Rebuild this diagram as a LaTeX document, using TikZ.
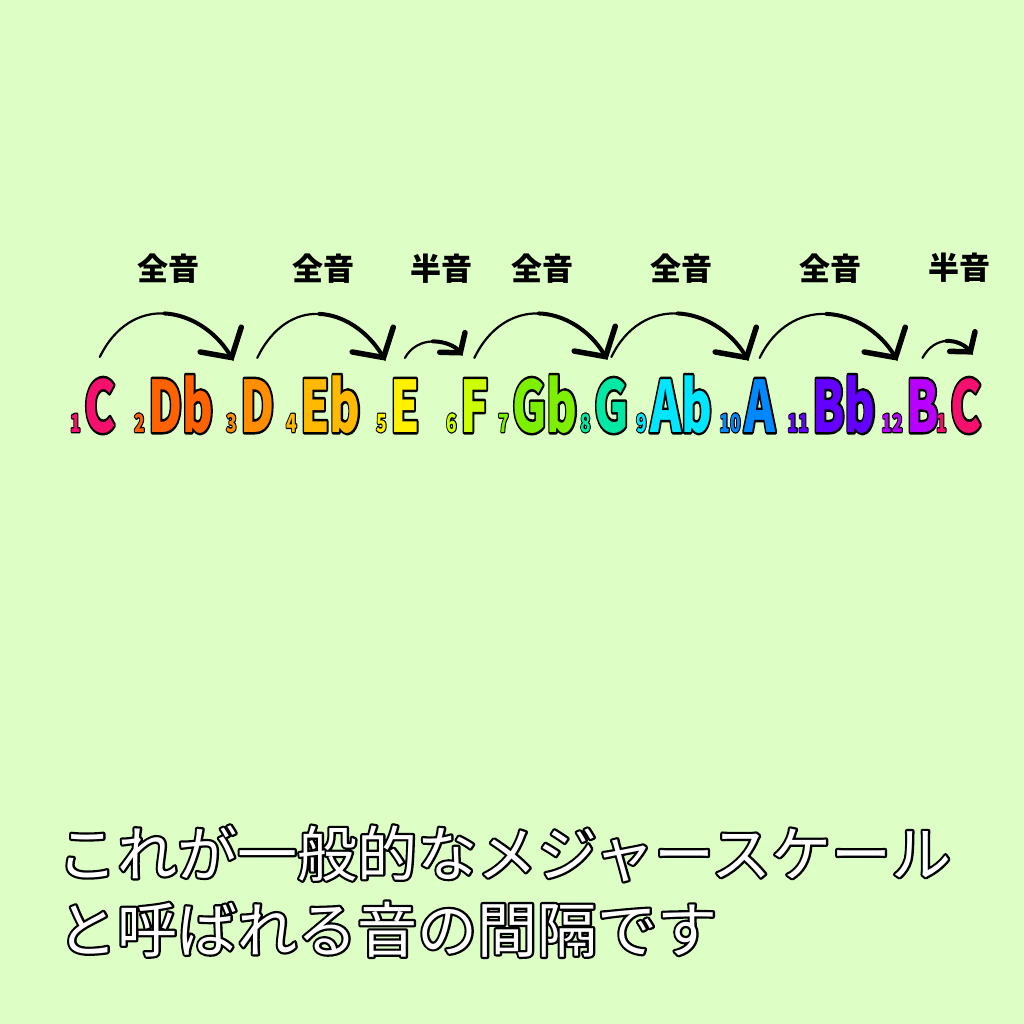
\documentclass[tikz,border=0pt]{standalone}
\usepackage{fontspec}
\usepackage{graphicx}
\usetikzlibrary{arrows.meta,calc}
\setmainfont{Noto Sans CJK JP}
\definecolor{bg}{HTML}{DDFFC6}
\definecolor{cC}{HTML}{F5106E}
\definecolor{cDb}{HTML}{FF6200}
\definecolor{cD}{HTML}{FF8E00}
\definecolor{cEb}{HTML}{FFB900}
\definecolor{cE}{HTML}{FFF000}
\definecolor{cF}{HTML}{CCFF00}
\definecolor{cGb}{HTML}{7CF000}
\definecolor{cG}{HTML}{00E8A4}
\definecolor{cAb}{HTML}{00E6FF}
\definecolor{cA}{HTML}{0088FF}
\definecolor{cBb}{HTML}{6400FF}
\definecolor{cB}{HTML}{B800FF}
% black rim under the filled text: #1 fill colour, #2 rim width, #3 text
\def\rimmed#1#2#3{\rlap{\special{pdf:literal direct 0 G #2 w 1 j 1 Tr}#3\special{pdf:literal direct 0 Tr}}{\color{#1}#3}}
\def\note#1#2{\scalebox{0.66}[1]{\rimmed{#1}{5}{#2}}}
\def\noteno#1#2{\scalebox{0.7}[1]{\rimmed{#1}{2.6}{#2}}}
\def\outlined#1{\rimmed{white}{4.4}{#1}}
\tikzset{
  letter/.style={inner sep=0pt, anchor=base west, font=\fontsize{71}{71}\selectfont\bfseries},
  idx/.style={inner sep=0pt, anchor=base east, font=\fontsize{25}{25}\selectfont\bfseries},
  stroke/.style={draw=black, line width=2.2pt, line cap=round},
  jump/.style={draw=black, line width=4pt, line cap=round,
    -{Straight Barb[length=21pt,width=48pt,line width=5.5pt,round]}},
  hop/.style={draw=black, line width=4pt, line cap=round,
    -{Straight Barb[length=13pt,width=32pt,line width=5.5pt,round]}},
  interval/.style={inner sep=0pt, font=\fontsize{31}{31}\selectfont\bfseries},
  caption/.style={inner sep=0pt, anchor=base west, font=\fontsize{60}{60}\selectfont}
}

\begin{document}
\begin{tikzpicture}[x=1pt,y=-1pt]
  \fill[bg] (0,0) rectangle (1024,1024);

  % the scale
  \node[letter] (c1) at (84,432) {\note{cC}{C}};
  \node[letter] (db) at (148,432) {\note{cDb}{Db}};
  \node[letter] (d)  at (240,432) {\note{cD}{D}};
  \node[letter] (eb) at (300,432) {\note{cEb}{Eb}};
  \node[letter] (e)  at (390,432) {\note{cE}{E}};
  \node[letter] (f)  at (460,432) {\note{cF}{F}};
  \node[letter] (gb) at (512,432) {\note{cGb}{Gb}};
  \node[letter] (g)  at (594,432) {\note{cG}{G}};
  \node[letter] (ab) at (650,432) {\note{cAb}{Ab}};
  \node[letter] (a)  at (744,432) {\note{cA}{A}};
  \node[letter] (bb) at (812,432) {\note{cBb}{Bb}};
  \node[letter] (b)  at (906,432) {\note{cB}{B}};
  \node[letter] (c2) at (950,432) {\note{cC}{C}};

  % numbers in front of the notes
  \foreach \n/\col/\num in {c1/cC/1, db/cDb/2, d/cD/3, eb/cEb/4, e/cE/5, f/cF/6,
      gb/cGb/7, g/cG/8, ab/cAb/9, a/cA/10, bb/cBb/11, b/cB/12, c2/cC/1}
    \node[idx] (\n no) at ([xshift=-3pt]\n.base west) {\noteno{\col}{\num}};

  % whole steps (thin start, thick end)
  \foreach \from/\to/\dx in {c1/d/-7, d/e/-5, f/g/13, g/a/4, a/b/-9} {
    \coordinate (s) at ([yshift=21pt]\from.north);
    \coordinate (t) at ([xshift=\dx pt, yshift=19pt]\to.north west);
    \coordinate (p) at ($(s)+(30,-62)$);
    \coordinate (q) at ($(t)+(-35,-58)$);
    \coordinate (m) at ($.125*(s)+.375*(p)+.375*(q)+.125*(t)$);
    \draw[stroke] (s) .. controls (p) and (q) .. (t);
    \draw[jump] (m) .. controls ($.25*(p)+.5*(q)+.25*(t)$) and ($.5*(q)+.5*(t)$) .. (t);
    \node[interval] at ($(s)!.5!(t)+(2,-90)$) {全音};
  }
  % half steps
  \foreach \from/\to/\dx/\sh in {e/f/2/8, b/c2/22/12} {
    \coordinate (s) at ([yshift=21pt]\from.north);
    \coordinate (t) at ([xshift=\dx pt, yshift=24pt]\to.north west);
    \coordinate (p) at ($(s)+(12,-22)$);
    \coordinate (q) at ($(t)+(-14,-18)$);
    \coordinate (m) at ($.125*(s)+.375*(p)+.375*(q)+.125*(t)$);
    \draw[stroke] (s) .. controls (p) and (q) .. (t);
    \draw[hop] (m) .. controls ($.25*(p)+.5*(q)+.25*(t)$) and ($.5*(q)+.5*(t)$) .. (t);
    \node[interval] at ($(s)!.5!(t)+(\sh,-88)$) {半音};
  }

  % caption
  \node[caption] (line1) at (57,876) {\outlined{これが一般的なメジャースケール}};
  \node[caption] (line2) at (57,952) {\outlined{と呼ばれる音の間隔です}};
\end{tikzpicture}
\end{document}
